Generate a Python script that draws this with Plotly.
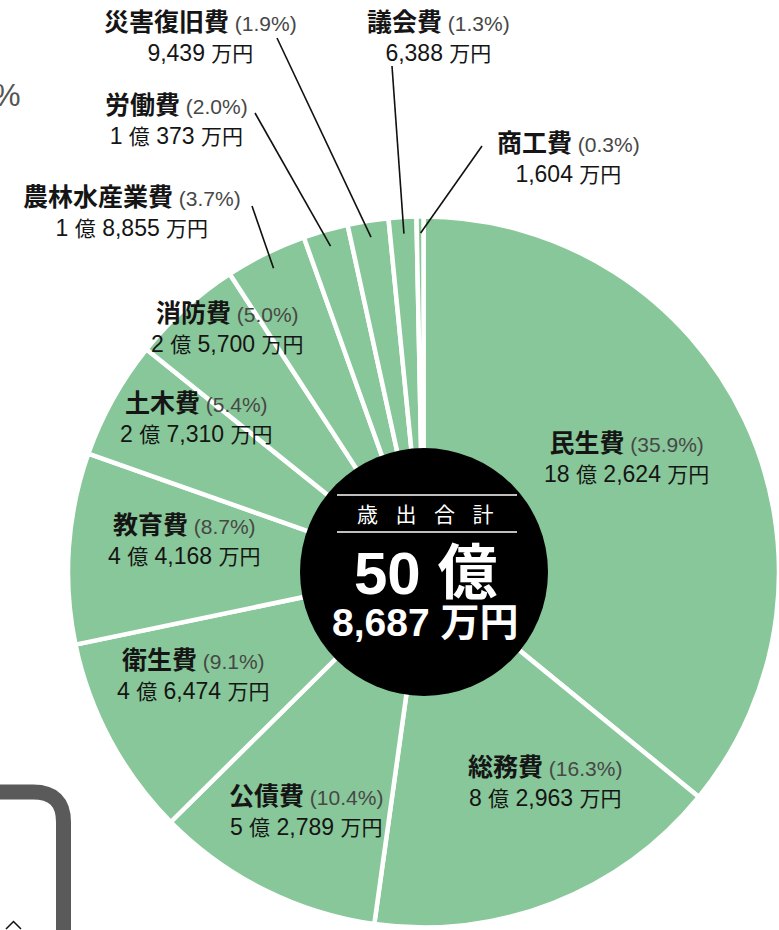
import math
import plotly.graph_objects as go

W, H = 779, 930

# ---------------- data ----------------
categories = ["民生費", "総務費", "公債費", "衛生費", "教育費", "土木費",
              "消防費", "農林水産業費", "労働費", "災害復旧費", "議会費", "商工費"]
amounts_man_yen = [182624, 82963, 52789, 46474, 44168, 27310,
                   25700, 18855, 10373, 9439, 6388, 1604]
percent_labels = ["35.9%", "16.3%", "10.4%", "9.1%", "8.7%", "5.4%",
                  "5.0%", "3.7%", "2.0%", "1.9%", "1.3%", "0.3%"]
amount_labels = ["18 億 2,624 万円", "8 億 2,963 万円", "5 億 2,789 万円",
                 "4 億 6,474 万円", "4 億 4,168 万円", "2 億 7,310 万円",
                 "2 億 5,700 万円", "1 億 8,855 万円", "1 億 373 万円",
                 "9,439 万円", "6,388 万円", "1,604 万円"]
total_title = "歳出合計"
total_oku = "50 億"
total_man = "8,687 万円"

# ---------------- layout constants ----------------
GREEN = "#88C799"
CX, CY = 424, 572          # pie centre in px (from top-left)
R = 356                    # outer radius px
R_HOLE = 124               # black centre disc radius px
FONT = "Liberation Sans, Noto Sans CJK JP, sans-serif"

label_pos = {  # label block centres (px)
    "民生費": (626, 458), "総務費": (545, 782), "公債費": (306, 811),
    "衛生費": (193, 675), "教育費": (184, 540), "土木費": (197, 418),
    "消防費": (227, 328), "農林水産業費": (132, 212), "労働費": (176, 120),
    "災害復旧費": (200, 37), "議会費": (438, 37), "商工費": (568, 158),
}
leader_tail = {
    "農林水産業費": (252, 206), "労働費": (255, 113), "災害復旧費": (277, 38),
    "議会費": (392, 66), "商工費": (482, 146),
}


def px(x):
    return x / W


def py(y):
    return 1 - y / H


def fmt_amount(s):
    out = []
    for ch in s:
        if ch in "億万円":
            out.append(f"<span style='font-size:21px'>{ch}</span>")
        else:
            out.append(ch)
    return "".join(out)


fig = go.Figure()

fig.add_trace(go.Pie(
    values=amounts_man_yen, labels=categories, sort=False,
    direction="clockwise", rotation=0,
    marker=dict(colors=[GREEN] * len(categories),
                line=dict(color="white", width=4.5)),
    textinfo="none", hoverinfo="label+percent", showlegend=False,
    domain=dict(x=[px(CX - R), min(1.0, px(CX + R))],
                y=[(H - CY - R) / H, (H - CY + R) / H]),
))

fig.add_trace(go.Pie(
    values=[1], labels=[total_title], sort=False,
    marker=dict(colors=["black"], line=dict(width=0)),
    textinfo="none", hoverinfo="skip", showlegend=False,
    domain=dict(x=[px(CX - R_HOLE), px(CX + R_HOLE)],
                y=[(H - CY - R_HOLE) / H, (H - CY + R_HOLE) / H]),
))

annotations = []
shapes = []

for name, pct, amt in zip(categories, percent_labels, amount_labels):
    x, y = label_pos[name]
    text = (f"<b><span style='font-size:25px'>{name}</span></b>"
            f"<span style='font-size:21px;color:#474747'> ({pct})</span>"
            f"<br>{fmt_amount(amt)}")
    annotations.append(dict(
        x=px(x), y=py(y), xref="paper", yref="paper", text=text,
        showarrow=False, xanchor="center", yanchor="middle", align="center",
        font=dict(family=FONT, size=23, color="#151515")))

# leader lines from slice mid-angles
total = sum(amounts_man_yen)
cum = 0
for name, v in zip(categories, amounts_man_yen):
    start = cum / total * 360
    cum += v
    end = cum / total * 360
    if name in leader_tail:
        mid = math.radians((start + end) / 2)
        r = R - 17
        hx, hy = CX + r * math.sin(mid), CY - r * math.cos(mid)
        tx, ty = leader_tail[name]
        shapes.append(dict(type="line", xref="paper", yref="paper",
                           x0=px(tx), y0=py(ty), x1=px(hx), y1=py(hy),
                           line=dict(color="#111111", width=1.6), layer="above"))

# centre texts
annotations.append(dict(
    x=px(CX + 1), y=py(514), xref="paper", yref="paper",
    text="   ".join(total_title), showarrow=False,
    font=dict(family=FONT, size=21, color="white")))
annotations.append(dict(
    x=px(CX + 1), y=py(573), xref="paper", yref="paper",
    text=f"<b>{total_oku}</b>", showarrow=False,
    font=dict(family=FONT, size=60, color="white")))
annotations.append(dict(
    x=px(CX + 1), y=py(646), xref="paper", yref="paper",
    text=f"<b>{total_man}</b>", showarrow=False,
    font=dict(family=FONT, size=39, color="white")))
for yy in (495, 532):
    shapes.append(dict(type="line", xref="paper", yref="paper",
                       x0=px(337), x1=px(517), y0=py(yy), y1=py(yy),
                       line=dict(color="white", width=1.5), layer="above"))

# cropped page fragments around the chart
annotations.append(dict(
    x=px(23), y=py(95), xref="paper", yref="paper", text="%",
    showarrow=False, xanchor="right", yanchor="middle",
    font=dict(family=FONT, size=31, color="#555555")))
shapes.append(dict(
    type="path", xref="paper", yref="paper",
    path=(f"M {px(-20)},{py(792)} L {px(33)},{py(792)} "
          f"Q {px(63.5)},{py(792)} {px(63.5)},{py(822)} L {px(63.5)},{py(960)}"),
    line=dict(color="#5B5A5A", width=15), layer="above"))
shapes.append(dict(
    type="path", xref="paper", yref="paper",
    path=f"M {px(6)},{py(929)} L {px(13.5)},{py(921.5)} L {px(21)},{py(929)}",
    line=dict(color="#111111", width=1.5), layer="above"))

fig.update_layout(
    width=W, height=H, margin=dict(l=0, r=0, t=0, b=0),
    paper_bgcolor="white", plot_bgcolor="white", showlegend=False,
    annotations=annotations, shapes=shapes,
)

fig.write_html(
    "out.html", config={"displayModeBar": False},
    post_script="document.body.style.margin='0px';document.body.style.overflow='hidden';",
)
